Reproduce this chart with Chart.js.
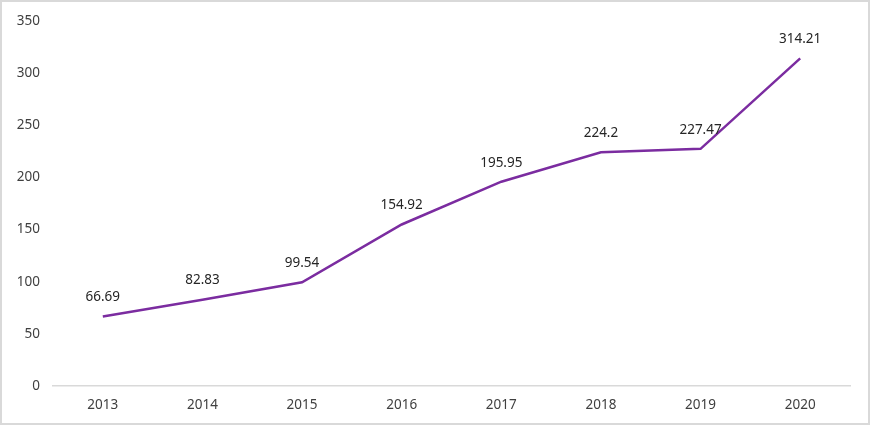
<!DOCTYPE html>
<html>
<head>
<meta charset="utf-8">
<script src="https://cdn.jsdelivr.net/npm/chart.js@4"></script>
<style>
  html, body { margin: 0; padding: 0; background: #fff; }
  canvas { display: block; }
</style>
</head>
<body>
<canvas id="chart" width="870" height="425"></canvas>
<script>
  // Data
  const years = ["2013", "2014", "2015", "2016", "2017", "2018", "2019", "2020"];
  const values = [66.69, 82.83, 99.54, 154.92, 195.95, 224.2, 227.47, 314.21];
  const yTicks = [0, 50, 100, 150, 200, 250, 300, 350];

  const fontFamily = "'Noto Sans', 'Open Sans', sans-serif";

  // Draw the value above each point
  const valueLabels = {
    id: "valueLabels",
    afterDatasetsDraw(chart) {
      const ctx = chart.ctx;
      const meta = chart.getDatasetMeta(0);
      ctx.save();
      ctx.font = "13.5px " + fontFamily;
      ctx.fillStyle = "#262626";
      ctx.textAlign = "center";
      ctx.textBaseline = "middle";
      meta.data.forEach((pt, i) => {
        ctx.fillText(String(values[i]), pt.x, pt.y - 19);
      });
      ctx.restore();
    }
  };

  // Light grey frame round the whole picture
  const frame = {
    id: "frame",
    afterDraw(chart) {
      const ctx = chart.ctx;
      ctx.save();
      ctx.strokeStyle = "#d9d9d9";
      ctx.lineWidth = 2;
      ctx.strokeRect(1, 1, chart.width - 2, chart.height - 2);
      ctx.restore();
    }
  };

  new Chart(document.getElementById("chart"), {
    type: "line",
    data: {
      labels: years,
      datasets: [{
        data: values,
        borderColor: "#7b2ca0",
        borderWidth: 2.5,
        pointRadius: 0,
        tension: 0,
        fill: false
      }]
    },
    options: {
      responsive: false,
      animation: false,
      layout: { padding: { top: 19, right: 20, left: 0, bottom: 0 } },
      plugins: {
        legend: { display: false },
        tooltip: { enabled: false }
      },
      scales: {
        x: {
          offset: true,
          grid: { display: false, drawTicks: false },
          border: { display: true, color: "#d9d9d9", width: 1.5 },
          ticks: {
            padding: 11,
            color: "#404040",
            font: { family: fontFamily, size: 13.5 }
          },
          afterFit(scale) { scale.height = 39; }
        },
        y: {
          min: 0,
          max: 350,
          afterBuildTicks(scale) {
            scale.ticks = yTicks.map(v => ({ value: v }));
          },
          grid: { display: false, drawTicks: false },
          border: { display: false },
          ticks: {
            padding: 13,
            color: "#404040",
            font: { family: fontFamily, size: 13.5 }
          },
          afterFit(scale) { scale.width = 53; }
        }
      }
    },
    plugins: [valueLabels, frame]
  });
</script>
</body>
</html>
